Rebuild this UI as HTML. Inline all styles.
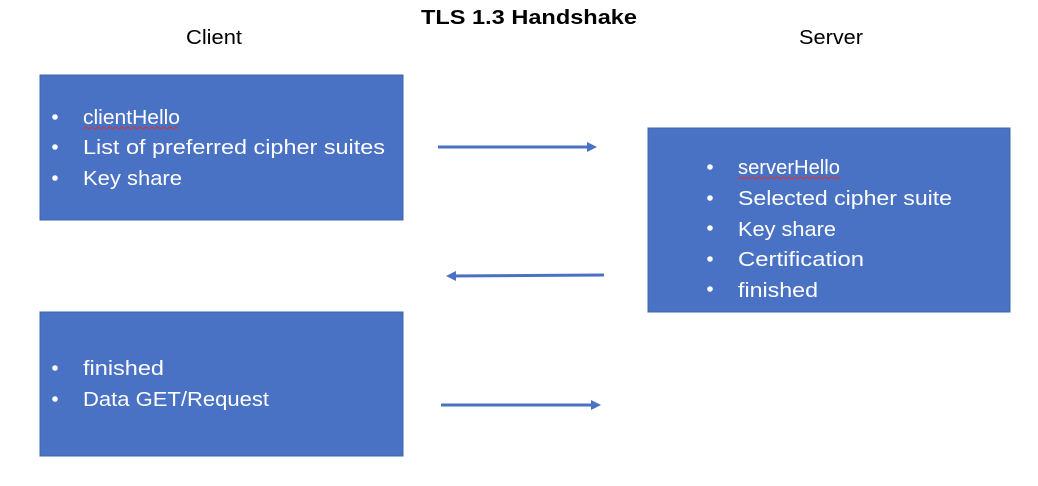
<!DOCTYPE html>
<html><head><style>html,body{margin:0;padding:0;background:#fff;}svg{display:block;}</style></head>
<body>
<svg width="1038" height="486" viewBox="0 0 1038 486" xmlns="http://www.w3.org/2000/svg" font-family="Liberation Sans, sans-serif">
<defs>
<marker id="ah" markerWidth="10" markerHeight="10" refX="7" refY="5" orient="auto" markerUnits="userSpaceOnUse">
<path d="M0,0 L10,5 L0,10 Z" fill="#4a72c4"/>
</marker>
</defs>
<text x="529" y="24" text-anchor="middle" font-weight="bold" font-size="20" fill="#000" textLength="216" lengthAdjust="spacingAndGlyphs">TLS 1.3 Handshake</text>
<text x="214" y="44" text-anchor="middle" font-size="20" fill="#000" textLength="56" lengthAdjust="spacingAndGlyphs">Client</text>
<text x="831" y="44" text-anchor="middle" font-size="20" fill="#000" textLength="64" lengthAdjust="spacingAndGlyphs">Server</text>

<rect x="40" y="75" width="363" height="145" fill="#4a72c4" stroke="#3f64ad" stroke-width="1"/>
<rect x="648" y="128" width="362" height="184" fill="#4a72c4" stroke="#3f64ad" stroke-width="1"/>
<rect x="40" y="312" width="363" height="144" fill="#4a72c4" stroke="#3f64ad" stroke-width="1"/>

<g fill="#fff" font-size="20">
<circle cx="55" cy="117" r="2.8"/><circle cx="55" cy="147" r="2.8"/><circle cx="55" cy="178" r="2.8"/>
<text x="83" y="124" textLength="97" lengthAdjust="spacingAndGlyphs">clientHello</text>
<text x="83" y="154" textLength="302" lengthAdjust="spacingAndGlyphs">List of preferred cipher suites</text>
<text x="83" y="185" textLength="99" lengthAdjust="spacingAndGlyphs">Key share</text>

<circle cx="710" cy="167" r="2.8"/><circle cx="710" cy="198" r="2.8"/><circle cx="710" cy="228" r="2.8"/><circle cx="710" cy="259" r="2.8"/><circle cx="710" cy="289" r="2.8"/>
<text x="738" y="174" textLength="102" lengthAdjust="spacingAndGlyphs">serverHello</text>
<text x="738" y="205" textLength="214" lengthAdjust="spacingAndGlyphs">Selected cipher suite</text>
<text x="738" y="236" textLength="98" lengthAdjust="spacingAndGlyphs">Key share</text>
<text x="738" y="266" textLength="126" lengthAdjust="spacingAndGlyphs">Certification</text>
<text x="738" y="297" textLength="80" lengthAdjust="spacingAndGlyphs">finished</text>

<circle cx="55" cy="368" r="2.8"/><circle cx="55" cy="399" r="2.8"/>
<text x="83" y="375" textLength="81" lengthAdjust="spacingAndGlyphs">finished</text>
<text x="83" y="406" textLength="186" lengthAdjust="spacingAndGlyphs">Data GET/Request</text>
</g>
<g stroke="#d33" stroke-width="1" fill="none">
<path d="M83,129 l3,-2 l3,2 l3,-2 l3,2 l3,-2 l3,2 l3,-2 l3,2 l3,-2 l3,2 l3,-2 l3,2 l3,-2 l3,2 l3,-2 l3,2 l3,-2 l3,2 l3,-2 l3,2 l3,-2 l3,2 l3,-2 l3,2 l3,-2 l3,2 l3,-2 l3,2 l3,-2 l3,2 l3,-2 l3,2"/>
<path d="M738,179 l3,-2 l3,2 l3,-2 l3,2 l3,-2 l3,2 l3,-2 l3,2 l3,-2 l3,2 l3,-2 l3,2 l3,-2 l3,2 l3,-2 l3,2 l3,-2 l3,2 l3,-2 l3,2 l3,-2 l3,2 l3,-2 l3,2 l3,-2 l3,2 l3,-2 l3,2 l3,-2 l3,2 l3,-2 l3,2 l3,-2 l3,2"/>
</g>

<g stroke="#4a72c4" stroke-width="3" marker-end="url(#ah)">
<line x1="438" y1="147" x2="594" y2="147"/>
<line x1="604" y1="275" x2="449" y2="276"/>
<line x1="441" y1="405" x2="598" y2="405"/>
</g>
</svg>
</body></html>
